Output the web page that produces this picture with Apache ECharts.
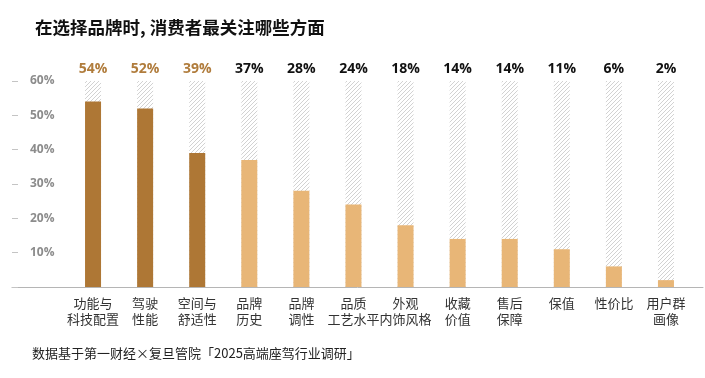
<!DOCTYPE html>
<html>
<head>
<meta charset="utf-8">
<script src="https://cdn.jsdelivr.net/npm/echarts@6/dist/echarts.min.js"></script>
<style>
html,body{margin:0;padding:0;background:#fff;}
#c{width:705px;height:378px;}
</style>
</head>
<body>
<div id="c"></div>
<script>
// ---- data ----
var categories = ['功能与\n科技配置','驾驶\n性能','空间与\n舒适性','品牌\n历史','品牌\n调性','品质\n工艺水平','外观\n内饰风格','收藏\n价值','售后\n保障','保值','性价比','用户群\n画像'];
var values = [54, 52, 39, 37, 28, 24, 18, 14, 14, 11, 6, 2];
var axisMax = 60;
var yTicks = [10, 20, 30, 40, 50, 60];
var highlightCount = 3;

// ---- styles ----
var darkBar = '#AE7735';
var lightBar = '#E8B677';
var darkLabel = '#B07C3C';
var plainLabel = '#111111';
var FONT = '"Noto Sans CJK SC","Open Sans",sans-serif';

function makeHatch() {
  var s = 4;
  var cv = document.createElement('canvas');
  cv.width = s; cv.height = s;
  var ctx = cv.getContext('2d');
  ctx.fillStyle = '#ffffff';
  ctx.fillRect(0, 0, s, s);
  ctx.strokeStyle = '#cdcdcd';
  ctx.lineWidth = 0.9;
  ctx.beginPath();
  ctx.moveTo(0, s); ctx.lineTo(s, 0);
  ctx.moveTo(-1, 1); ctx.lineTo(1, -1);
  ctx.moveTo(s - 1, s + 1); ctx.lineTo(s + 1, s - 1);
  ctx.stroke();
  return cv;
}

var chart = echarts.init(document.getElementById('c'), null, {renderer: 'canvas'});
var hatch = makeHatch();

var bgData = categories.map(function (c, i) {
  return {
    value: axisMax,
    label: {color: i < highlightCount ? darkLabel : plainLabel}
  };
});
var valData = values.map(function (v, i) {
  return {value: v, itemStyle: {color: i < highlightCount ? darkBar : lightBar}};
});

var option = {
  animation: false,
  backgroundColor: '#ffffff',
  title: {
    text: '在选择品牌时, 消费者最关注哪些方面',
    left: 30, top: 14,
    textStyle: {fontFamily: FONT, fontSize: 17.5, fontWeight: 'bold', color: '#111'}
  },
  graphic: [{
    type: 'text', left: 32, top: 347,
    style: {text: '数据基于第一财经×复旦管院「2025高端座驾行业调研」', font: '13px ' + FONT, fill: '#222'}
  }],
  grid: [
    {left: 67, right: 13, top: 81, bottom: 91},
    {left: 12, right: 2, top: 81, bottom: 91}
  ],
  xAxis: [
    {
      type: 'category', data: categories, gridIndex: 0,
      axisLine: {show: false}, axisTick: {show: false},
      axisLabel: {margin: 8, fontFamily: FONT, fontSize: 13, color: '#333', lineHeight: 16, interval: 0}
    },
    {
      type: 'value', gridIndex: 1, min: 0, max: 1,
      axisLine: {show: true, lineStyle: {color: '#b5b5b5', width: 1}},
      axisTick: {show: false}, axisLabel: {show: false}, splitLine: {show: false}
    }
  ],
  yAxis: [
    {
      type: 'value', gridIndex: 0, min: 0, max: axisMax, interval: 10, offset: 55,
      axisLine: {show: false},
      axisTick: {show: true, inside: true, length: 6, lineStyle: {color: '#c4c4c4'}},
      axisLabel: {
        inside: true, margin: 18, fontFamily: '"Open Sans",sans-serif', fontSize: 12, fontWeight: 'bold', color: '#8c8c8c',
        formatter: function (v) { return yTicks.indexOf(v) >= 0 ? v + '%' : ''; }
      },
      splitLine: {show: false}
    },
    {type: 'value', gridIndex: 1, show: false, min: 0, max: 1}
  ],
  series: [
    {
      type: 'bar', xAxisIndex: 0, yAxisIndex: 0, barWidth: 16, barGap: '-100%',
      data: bgData, silent: true,
      itemStyle: {color: {image: hatch, repeat: 'repeat'}},
      label: {
        show: true, position: 'top', distance: 5,
        fontFamily: '"Open Sans",sans-serif', fontSize: 14, fontWeight: 'bold',
        formatter: function (p) { return values[p.dataIndex] + '%'; }
      },
      z: 1
    },
    {
      type: 'bar', xAxisIndex: 0, yAxisIndex: 0, barWidth: 16, barGap: '-100%',
      data: valData, z: 2
    }
  ]
};
chart.setOption(option);
</script>
</body>
</html>
